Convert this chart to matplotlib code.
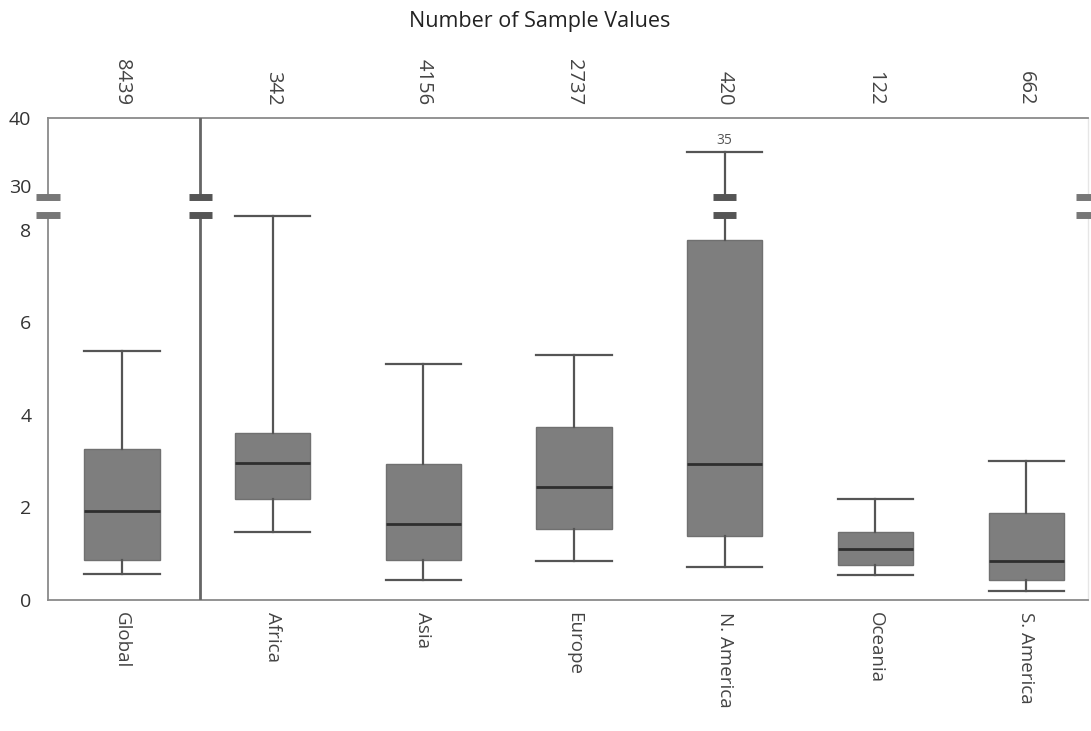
import numpy as np
import matplotlib
matplotlib.use("Agg")
import matplotlib.pyplot as plt

plt.rcParams['font.family'] = ['Open Sans', 'DejaVu Sans']

# ---- data ----
categories = ["Global", "Africa", "Asia", "Europe", "N. America", "Oceania", "S. America"]
sample_counts = ["8439", "342", "4156", "2737", "420", "122", "662"]
whisker_low = [0.56, 1.47, 0.43, 0.84, 0.71, 0.54, 0.19]
q1 = [0.87, 2.18, 0.87, 1.54, 1.39, 0.76, 0.43]
median = [1.93, 2.96, 1.65, 2.45, 2.94, 1.10, 0.84]
q3 = [3.27, 3.61, 2.94, 3.74, 7.77, 1.47, 1.88]
whisker_high = [5.37, 8.29, 5.09, 5.30, 35.0, 2.19, 3.01]
y_ticks = [0, 2, 4, 6, 8, 30, 40]

# ---- broken-axis scale ----
LOW_BREAK = 8.32
HIGH_BREAK = 28.4
GAP = 0.39
K = 0.147

def fwd(v):
    v = np.asarray(v, dtype=float)
    return np.where(v <= LOW_BREAK, v,
                    np.where(v >= HIGH_BREAK, LOW_BREAK + GAP + (v - HIGH_BREAK) * K,
                             LOW_BREAK + (v - LOW_BREAK) / (HIGH_BREAK - LOW_BREAK) * GAP))

def inv(u):
    u = np.asarray(u, dtype=float)
    return np.where(u <= LOW_BREAK, u,
                    np.where(u >= LOW_BREAK + GAP, HIGH_BREAK + (u - LOW_BREAK - GAP) / K,
                             LOW_BREAK + (u - LOW_BREAK) / GAP * (HIGH_BREAK - LOW_BREAK)))

fig = plt.figure(figsize=(10.91, 7.31), dpi=100)
ax = fig.add_axes([48 / 1091, 1 - 600 / 731, (1088 - 48) / 1091, (600 - 118) / 731])
ax.set_yscale('function', functions=(fwd, inv))

positions = np.arange(len(categories))
stats = []
for i in range(len(categories)):
    stats.append(dict(med=median[i], q1=q1[i], q3=q3[i],
                      whislo=whisker_low[i], whishi=whisker_high[i], fliers=[]))

ax.bxp(stats, positions=positions, widths=0.5, patch_artist=True, showfliers=False,
       boxprops=dict(facecolor='#7e7e7e', edgecolor='#707070', linewidth=1.0),
       medianprops=dict(color='#2e2e2e', linewidth=2.0),
       whiskerprops=dict(color='#555555', linewidth=1.6),
       capprops=dict(color='#555555', linewidth=1.6),
       capwidths=0.5)

xmin, xmax = -0.49, 6.41
ax.set_xlim(xmin, xmax)
ax.set_ylim(0, 40)

sep = 0.52
ax.axvline(sep, color='#666666', linewidth=2.0, zorder=3)

for s in ['left', 'top', 'bottom']:
    ax.spines[s].set_color('#8a8a8a')
    ax.spines[s].set_linewidth(1.3)
ax.spines['right'].set_color('#e6e6e6')
ax.spines['right'].set_linewidth(1.0)

ax.set_yticks(y_ticks)
ax.set_yticklabels([str(t) for t in y_ticks])
ax.tick_params(axis='y', length=0, pad=12, labelsize=14, labelcolor='#333333')
ax.set_xticks(positions)
ax.set_xticklabels(categories, rotation=270, fontsize=13.5, color='#444444')
ax.tick_params(axis='x', length=0, pad=9)

# break marks
dx = 11.5 / 150.7
for x, col in [(xmin, '#777777'), (sep, '#555555'), (positions[4], '#555555'), (xmax, '#777777')]:
    ax.plot([x, x], [LOW_BREAK, HIGH_BREAK], color='white', linewidth=4,
            solid_capstyle='butt', zorder=5, clip_on=False)
    for yb in [LOW_BREAK, HIGH_BREAK]:
        ax.plot([x - dx, x + dx], [yb, yb], color=col, linewidth=5,
                solid_capstyle='butt', zorder=6, clip_on=False)

# label for the clipped whisker
ax.text(positions[4], whisker_high[4] + 0.6, "35", ha='center', va='bottom',
        fontsize=10, color='#555555')

# sample counts on top
for i, c in enumerate(sample_counts):
    ax.annotate(c, xy=(positions[i], 1), xycoords=('data', 'axes fraction'),
                xytext=(0, 9), textcoords='offset points',
                rotation=270, ha='center', va='bottom', fontsize=14.5, color='#444444')

fig.text(540 / 1091, 1 - 22 / 731, "Number of Sample Values", ha='center', va='center',
         fontsize=15.5, color='#222222')

fig.savefig("out.png", dpi=100)
